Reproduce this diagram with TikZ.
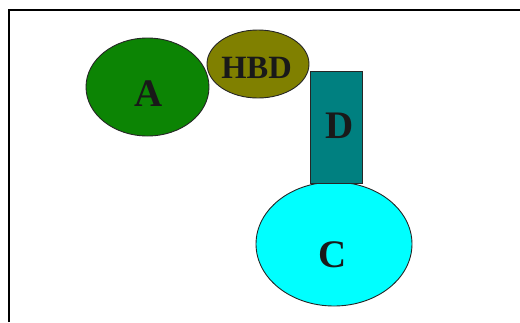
\documentclass[tikz,border=0pt]{standalone}
\usepackage{fontspec}
\setmainfont{Liberation Serif}
\usetikzlibrary{shapes.geometric}
\definecolor{cA}{RGB}{12,132,4}
\definecolor{cH}{RGB}{128,128,0}
\definecolor{cD}{RGB}{0,128,128}
\definecolor{cC}{RGB}{0,255,255}
\tikzset{
  shp/.style={draw=black!85, line width=0.9pt, inner sep=0pt, outer sep=0pt},
  ell/.style={shp, ellipse},
  lbl/.style={inner sep=0pt, font=\bfseries\fontsize{39}{41}\selectfont, text=black!90},
  lbls/.style={inner sep=0pt, font=\bfseries\fontsize{32.5}{34}\selectfont, text=black!90},
  frame/.style={line width=1.6pt, black}
}
\begin{document}
\begin{tikzpicture}[x=1pt,y=-1pt]
\useasboundingbox (0,0) rectangle (520,322);
\coordinate (f1) at (9,322);
\coordinate (f2) at (9,10);
\coordinate (f3) at (520,10);
\draw[frame] (f1) -- (f2) -- (f3);
\node[ell, fill=cA, minimum width=123pt, minimum height=98pt] (A) at (147.5,87) {};
\node[lbl] (tA) at (149,93.5) {A};
\node[ell, fill=cH, minimum width=102pt, minimum height=68pt] (H) at (258,64) {};
\node[lbls] (tH) at (256.5,67.5) {HBD};
\node[ell, fill=cC, minimum width=156pt, minimum height=124pt] (C) at (334,244) {};
\node[lbl] (tC) at (333,255) {C};
\node[shp, rectangle, fill=cD, minimum width=52pt, minimum height=112pt] (D) at (336,127) {};
\node[lbl] (tD) at (340,126) {D};
\end{tikzpicture}
\end{document}
